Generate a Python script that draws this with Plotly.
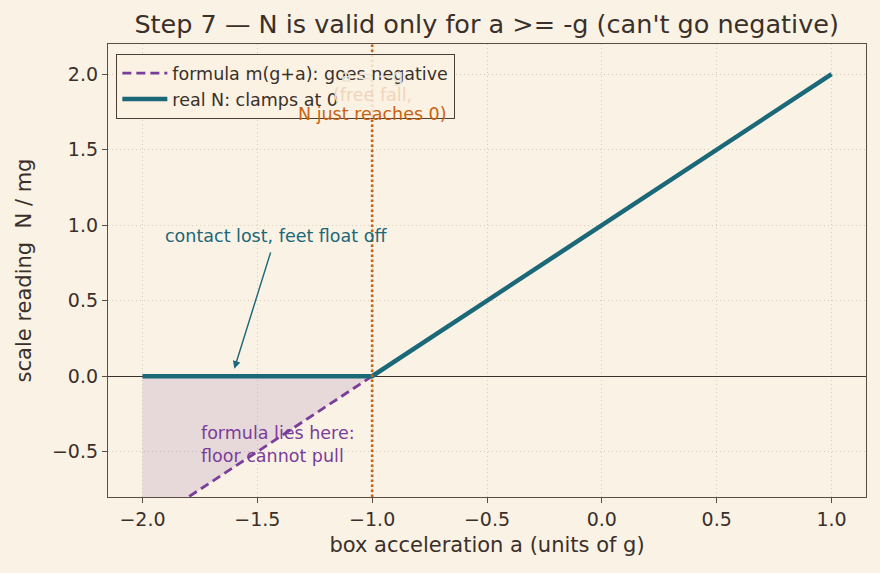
import plotly.graph_objects as go

a_vals = [-2.0, -1.0, 1.0]
formula_vals = [-1.0, 0.0, 2.0]
realN_vals = [0.0, 0.0, 2.0]
fill_x = [-2.0, -1.0]
fill_low = [-1.0, 0.0]
fill_high = [0.0, 0.0]
x_ticks = [-2.0, -1.5, -1.0, -0.5, 0.0, 0.5, 1.0]
y_ticks = [-0.5, 0.0, 0.5, 1.0, 1.5, 2.0]

BG = "#faf2e4"
FRAME = "#5a4e44"
TEXT = "#3a302a"
TEAL = "#1a6878"
PURPLE = "#7a3d9a"
ORANGE = "#c8620e"
ORANGE_FADED = "#f0d5ba"
GREY_FADED = "#ebe2d4"
GRID = "#d6ccba"
FONT = "DejaVu Sans"

fig = go.Figure()

# shaded region
fig.add_trace(go.Scatter(x=fill_x, y=fill_high, mode="lines", line=dict(width=0),
                         showlegend=False, hoverinfo="skip"))
fig.add_trace(go.Scatter(x=fill_x, y=fill_low, mode="lines", line=dict(width=0),
                         fill="tonexty", fillcolor="rgba(122,61,154,0.14)",
                         showlegend=False, hoverinfo="skip"))

fig.add_trace(go.Scatter(x=a_vals, y=formula_vals, mode="lines",
                         line=dict(color=PURPLE, width=2.8, dash="9px,5px"),
                         name="formula m(g+a): goes negative"))
fig.add_trace(go.Scatter(x=a_vals, y=realN_vals, mode="lines",
                         line=dict(color=TEAL, width=4.5),
                         name="real N: clamps at 0"))

# vertical dotted line at a=-g
fig.add_shape(type="line", xref="x", x0=-1, x1=-1, yref="paper", y0=0, y1=1,
              line=dict(color=ORANGE, width=2.6, dash="2.5px,2.5px"))

# annotation partly hidden behind the legend
fig.add_annotation(x=-1.0, y=1.987, xref="x", yref="y", text="a = −g",
                   showarrow=False, font=dict(family=FONT, size=17.5, color=GREY_FADED))
fig.add_annotation(x=-1.0, y=1.861, xref="x", yref="y", text="(free fall,",
                   showarrow=False, font=dict(family=FONT, size=17.5, color=ORANGE_FADED))
fig.add_annotation(x=-1.0, y=1.735, xref="x", yref="y", text="N just reaches 0)",
                   showarrow=False, font=dict(family=FONT, size=17.5, color=ORANGE))

fig.add_annotation(x=-1.6, y=0.05, ax=-1.44, ay=0.83, xref="x", yref="y",
                   axref="x", ayref="y", text="", showarrow=True,
                   arrowhead=2, arrowsize=1.1, arrowwidth=1.4, arrowcolor=TEAL)
fig.add_annotation(x=-1.417, y=0.927, xref="x", yref="y",
                   text="contact lost, feet float off", showarrow=False,
                   font=dict(family=FONT, size=17.5, color=TEAL))

fig.add_annotation(x=-1.755, y=-0.454, xref="x", yref="y", xanchor="left",
                   text="formula lies here:<br>floor cannot pull", showarrow=False,
                   align="left", font=dict(family=FONT, size=17.5, color=PURPLE))

fig.update_layout(
    width=880, height=573,
    paper_bgcolor=BG, plot_bgcolor=BG,
    margin=dict(l=108, r=14, t=44, b=76),
    font=dict(family=FONT, color=TEXT, size=17),
    title=dict(text="Step 7 — N is valid only for a >= -g (can't go negative)",
               x=0.553, xanchor="center", y=0.958, yanchor="middle",
               font=dict(family=FONT, size=25.5, color=TEXT)),
    legend=dict(x=0.0106, y=0.978, xanchor="left", yanchor="top",
                bgcolor="rgba(250,242,228,0.85)", bordercolor="#4a3f36", borderwidth=1.3,
                font=dict(family=FONT, size=17.5, color=TEXT),
                traceorder="normal", tracegroupgap=0, itemwidth=45),
    showlegend=True,
)
fig.update_xaxes(range=[-2.15, 1.15], tickvals=x_ticks,
                 ticktext=[f"{v:.1f}".replace("-", "−") for v in x_ticks],
                 showline=True, linecolor=FRAME, linewidth=1.3, mirror=True,
                 ticks="outside", ticklen=5, tickcolor=FRAME,
                 showgrid=True, gridcolor=GRID, griddash="1px,3px", gridwidth=1,
                 zeroline=False, tickfont=dict(size=19),
                 title=dict(text="box acceleration a (units of g)", font=dict(size=21), standoff=8))
fig.update_yaxes(range=[-0.8, 2.2], tickvals=y_ticks,
                 ticktext=[f"{v:.1f}".replace("-", "−") for v in y_ticks],
                 showline=True, linecolor=FRAME, linewidth=1.3, mirror=True,
                 ticks="outside", ticklen=5, tickcolor=FRAME,
                 showgrid=True, gridcolor=GRID, griddash="1px,3px", gridwidth=1,
                 zeroline=True, zerolinecolor=TEXT, zerolinewidth=1.4,
                 tickfont=dict(size=19),
                 title=dict(text="scale reading  N / mg", font=dict(size=21), standoff=14))

fig.write_html("out.html")
